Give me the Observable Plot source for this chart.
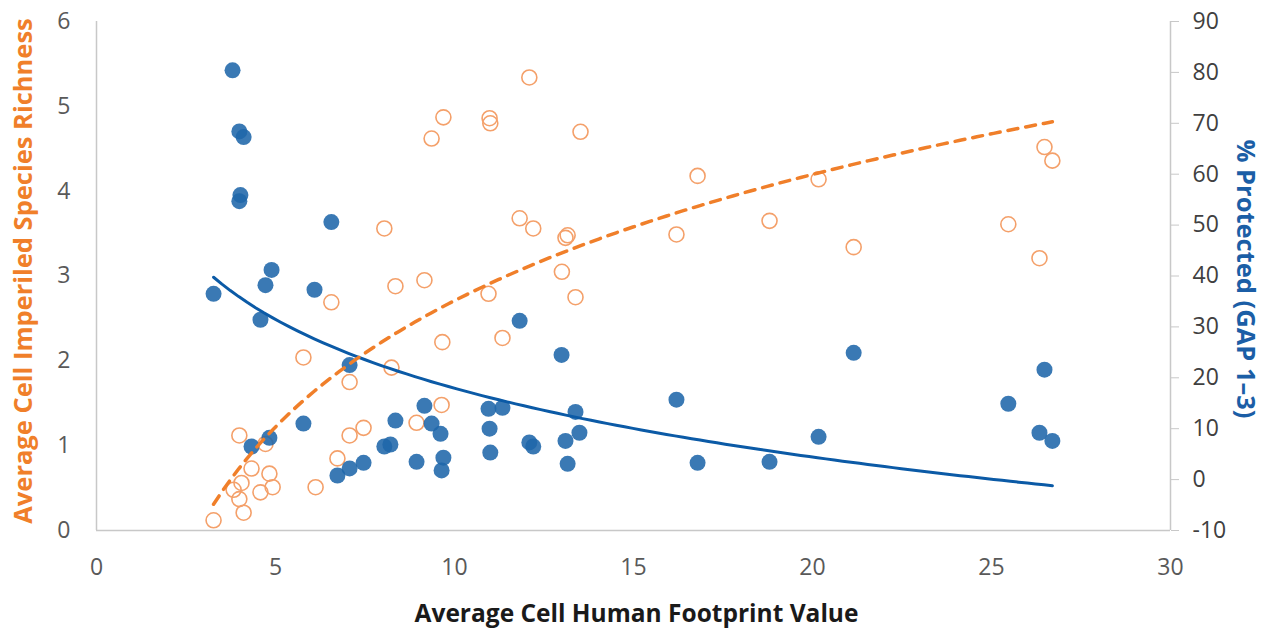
<!DOCTYPE html>
<html>
<head>
<meta charset="utf-8">
<script src="https://cdn.jsdelivr.net/npm/d3@7"></script>
<script src="https://cdn.jsdelivr.net/npm/@observablehq/plot@0.6"></script>
<style>
  html, body { margin: 0; padding: 0; background: #fff; }
  #chart { width: 1267px; height: 630px; }
</style>
</head>
<body>
<div id="chart"></div>
<script>
// Imperiled species richness (left axis) vs human footprint
const richX = [3.27, 3.83, 3.99, 3.99, 4.05, 4.11, 4.33, 4.58, 4.72, 4.83, 4.92, 5.78, 6.12, 6.56, 6.73, 7.07, 7.07, 7.46,
  8.04, 8.24, 8.35, 8.94, 9.16, 9.36, 9.64, 9.66, 9.69, 10.95, 10.98, 11.0, 11.34, 11.82, 12.09, 12.2, 13.0, 13.1, 13.16,
  13.38, 13.52, 16.2, 16.79, 18.8, 20.17, 21.15, 25.47, 26.34, 26.48, 26.7];
const richY = [0.12, 0.48, 0.37, 1.12, 0.56, 0.21, 0.73, 0.45, 1.02, 0.67, 0.51, 2.04, 0.51, 2.69, 0.85, 1.75, 1.12, 1.21,
  3.56, 1.92, 2.88, 1.27, 2.95, 4.62, 1.48, 2.22, 4.87, 2.79, 4.86, 4.80, 2.27, 3.68, 5.34, 3.56, 3.05, 3.45, 3.48,
  2.75, 4.70, 3.49, 4.18, 3.65, 4.14, 3.34, 3.61, 3.21, 4.52, 4.36];

// % Protected (GAP 1-3) (right axis) vs human footprint
const protX = [3.27, 3.80, 3.99, 4.11, 4.02, 3.99, 4.33, 4.58, 4.72, 4.89, 4.83, 5.78, 6.09, 6.56, 6.73, 7.07, 7.07, 7.46,
  8.04, 8.21, 8.35, 8.94, 9.16, 9.36, 9.61, 9.69, 9.64, 10.95, 10.98, 11.0, 11.34, 11.82, 12.09, 12.2, 12.99, 13.1,
  13.16, 13.38, 13.49, 16.2, 16.79, 18.8, 20.17, 21.15, 25.47, 26.34, 26.48, 26.7];
const protY = [36.5, 80.4, 68.4, 67.3, 55.9, 54.7, 6.5, 31.4, 38.2, 41.2, 8.2, 11.0, 37.3, 50.6, 0.8, 22.5, 2.2, 3.3,
  6.5, 6.9, 11.6, 3.5, 14.5, 11.0, 9.0, 4.3, 1.8, 13.9, 10.0, 5.3, 14.1, 31.2, 7.3, 6.5, 24.5, 7.6,
  3.1, 13.3, 9.2, 15.7, 3.3, 3.5, 8.4, 24.9, 14.9, 9.2, 21.6, 7.6];

const xTicks = [0, 5, 10, 15, 20, 25, 30];
const leftTicks = [0, 1, 2, 3, 4, 5, 6];
const rightTicks = [-10, 0, 10, 20, 30, 40, 50, 60, 70, 80, 90];

const xTitle = "Average Cell Human Footprint Value";
const leftTitle = "Average Cell Imperiled Species Richness";
const rightTitle = "% Protected (GAP 1–3)";

const ORANGE = "#f07f2a";
const ORANGE_PT = "#f4a06a";
const BLUE = "#1f67aa";
const BLUE_LINE = "#0b5aa6";
const TITLE_FONT = "'Open Sans', sans-serif";

// right axis domain [-10, 90] mapped onto left domain [0, 6]
const rMin = -10, rMax = 90, lMax = 6;
const toLeft = v => (v - rMin) / (rMax - rMin) * lMax;
const fromLeft = d => d / lMax * (rMax - rMin) + rMin;

const rich = richX.map((x, i) => ({x, y: richY[i]}));
const prot = protX.map((x, i) => ({x, y: toLeft(protY[i])}));

// logarithmic trend (least squares on ln x), like a spreadsheet log trendline
function logFit(xs, ys) {
  const lx = xs.map(Math.log);
  const mx = d3.mean(lx), my = d3.mean(ys);
  const b = d3.sum(lx, (v, i) => (v - mx) * (ys[i] - my)) / d3.sum(lx, v => (v - mx) ** 2);
  const a = my - b * mx;
  const x0 = d3.min(xs), x1 = d3.max(xs);
  return d3.range(0, 101).map(k => {
    const x = x0 + (x1 - x0) * k / 100;
    return {x, y: a + b * Math.log(x)};
  });
}
const richTrend = logFit(richX, richY);
const protTrend = logFit(protX, protY).map(d => ({x: d.x, y: toLeft(d.y)}));

const chart = Plot.plot({
  width: 1267,
  height: 630,
  marginLeft: 96,
  marginRight: 97,
  marginTop: 21,
  marginBottom: 100,
  x: {domain: [0, 30]},
  y: {domain: [0, 6]},
  style: {fontFamily: "'Open Sans', sans-serif", fontSize: "23px", color: "#595959", background: "#fff", overflow: "visible"},
  marks: [
    Plot.ruleX([0], {stroke: "#c8c8c8", strokeWidth: 1.5}),
    Plot.ruleX([30], {stroke: "#c8c8c8", strokeWidth: 1.5}),
    Plot.ruleY([0], {stroke: "#c8c8c8", strokeWidth: 1.5}),
    Plot.axisX(xTicks, {tickSize: 0, tickPadding: 28, label: null, fill: "#595959", tickFormat: d => String(d)}),
    Plot.axisY(leftTicks, {tickSize: 0, tickPadding: 26, label: null, fill: "#595959", tickFormat: d => String(d)}),
    Plot.axisY(rightTicks.map(toLeft), {anchor: "right", tickSize: 8, tickPadding: 14, stroke: "#c8c8c8",
      tickFormat: d => String(Math.round(fromLeft(d))), label: null, fill: "#404040"}),
    Plot.dot(rich, {x: "x", y: "y", r: 7.5, stroke: ORANGE_PT, strokeWidth: 1.6, fill: "none"}),
    Plot.dot(prot, {x: "x", y: "y", r: 8, fill: BLUE, fillOpacity: 0.88, stroke: "none"}),
    Plot.line(protTrend, {x: "x", y: "y", stroke: BLUE_LINE, strokeWidth: 3, curve: "linear"}),
    Plot.line(richTrend, {x: "x", y: "y", stroke: ORANGE, strokeWidth: 3.5, strokeDasharray: "10,8"}),
    Plot.text([xTitle], {frameAnchor: "bottom", lineAnchor: "middle", textAnchor: "middle", dy: 84, dx: 3, text: d => d,
      fontSize: 24.5, fontWeight: "bold", fill: "#1a1a1a", fontFamily: TITLE_FONT}),
    Plot.text([leftTitle], {frameAnchor: "left", lineAnchor: "middle", textAnchor: "middle", dx: -73, dy: -5, rotate: -90,
      text: d => d, fontSize: 25.5, fontWeight: "bold", fill: ORANGE, fontFamily: TITLE_FONT}),
    Plot.text([rightTitle], {frameAnchor: "right", lineAnchor: "middle", textAnchor: "middle", dx: 75, dy: 3, rotate: 90,
      text: d => d, fontSize: 25.5, fontWeight: "bold", fill: "#1b5ea6", fontFamily: TITLE_FONT})
  ]
});
document.getElementById("chart").appendChild(chart);
</script>
</body>
</html>
